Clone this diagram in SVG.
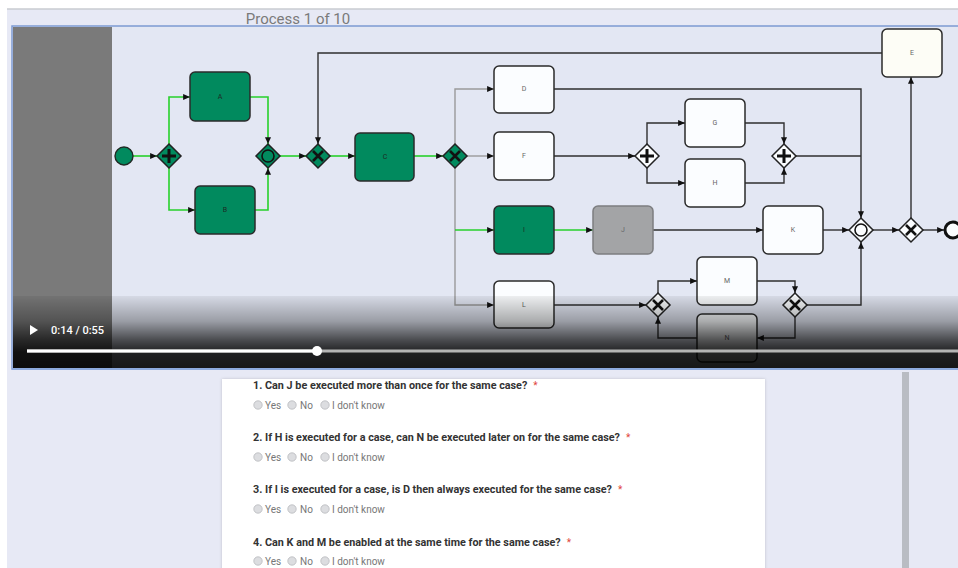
<svg xmlns="http://www.w3.org/2000/svg" width="958" height="568" viewBox="0 0 958 568">
  <defs>
    <style>
      .task { stroke: #2b2b2b; stroke-width: 1.5; }
      .t-green { fill: #018a5e; }
      .t-white { fill: #fbfdff; }
      .t-gray { fill: #a3a4a6; stroke: #7d7e80; }
      .lbl { font-family: Roboto, "Liberation Sans", sans-serif; font-size: 7px; text-anchor: middle; dominant-baseline: central; fill: #666; }
      .lbl-g { fill: #1d2b24; }
      .gw { stroke: #222; stroke-width: 1.5; }
      .gw-green { fill: #018a5e; }
      .gw-white { fill: #fbfdff; }
      .sym { stroke: #111; fill: none; stroke-linecap: butt; }
      .e-green { stroke: #27d12b; stroke-width: 1.6; fill: none; marker-end: url(#arr); }
      .e-gray { stroke: #9a9a9a; stroke-width: 1.4; fill: none; marker-end: url(#arr); }
      .e-dark { stroke: #2f2f2f; stroke-width: 1.4; fill: none; marker-end: url(#arr); }
      .e-plain { stroke: #2f2f2f; stroke-width: 1.4; fill: none; }
      .q { font-family: Roboto, "Liberation Sans", sans-serif; font-size: 10.8px; font-weight: bold; fill: #333; }
      .req { font-family: Roboto, "Liberation Sans", sans-serif; font-size: 10px; font-weight: normal; fill: #e0453a; }
      .opt { font-family: Roboto, "Liberation Sans", sans-serif; font-size: 10px; fill: #777; }
      .radio { fill: #dcdde0; stroke: #b8b9bc; stroke-width: 0.8; }
    </style>
    <marker id="arr" viewBox="0 0 8 7" refX="8" refY="3.5" markerWidth="7" markerHeight="6" markerUnits="userSpaceOnUse" orient="auto">
      <path d="M0,0 L8,3.5 L0,7 z" fill="#111"/>
    </marker>
    <linearGradient id="shade" x1="0" y1="0" x2="0" y2="1">
      <stop offset="0" stop-color="#000" stop-opacity="0.06"/>
      <stop offset="0.35" stop-color="#000" stop-opacity="0.32"/>
      <stop offset="0.6" stop-color="#000" stop-opacity="0.66"/>
      <stop offset="0.78" stop-color="#000" stop-opacity="0.86"/>
      <stop offset="1" stop-color="#000" stop-opacity="0.9"/>
    </linearGradient>
    <filter id="cardShadow" x="-5%" y="-5%" width="110%" height="110%">
      <feDropShadow dx="0" dy="0" stdDeviation="1.5" flood-color="#000" flood-opacity="0.18"/>
    </filter>
  </defs>

  <!-- page -->
  <rect x="0" y="0" width="958" height="568" fill="#ffffff"/>
  <rect x="7" y="9" width="951" height="559" fill="#e7e9f5"/>
  <line x1="7" y1="9" x2="958" y2="9" stroke="#c9cbd1" stroke-width="1.5"/>
  <text x="298" y="24" text-anchor="middle" font-family="Roboto, 'Liberation Sans', sans-serif" font-size="15" fill="#7a7a7a">Process 1 of 10</text>

  <!-- video frame -->
  <rect x="12" y="26" width="950" height="343" fill="#e3e7f3" stroke="#7d9bd2" stroke-width="1.5"/>
  <rect x="13" y="27" width="99" height="341" fill="#7a7a7a"/>

  <!-- connectors -->
  <g id="connectors">
    <path class="e-green" d="M133,156 H157"/>
    <path class="e-green" d="M169,144 V97 H190"/>
    <path class="e-green" d="M169,168 V210 H195"/>
    <path class="e-green" d="M250,97 H268 V144"/>
    <path class="e-green" d="M255,210 H268 V168"/>
    <path class="e-green" d="M280,156 H306"/>
    <path class="e-green" d="M330,156 H355"/>
    <path class="e-green" d="M414,156 H443"/>
    <path class="e-gray" d="M455,144 V89 H494"/>
    <path class="e-gray" d="M467,156 H494"/>
    <path class="e-gray" d="M455,168 V305 H494"/>
    <path class="e-green" d="M455,230 H494"/>
    <path class="e-green" d="M554,230 H593"/>
    <path class="e-dark" d="M882,53 H318 V144"/>
    <path class="e-dark" d="M554,89 H861 V218"/>
    <path class="e-dark" d="M554,156 H635"/>
    <path class="e-dark" d="M647,144 V123 H685"/>
    <path class="e-dark" d="M647,168 V183 H685"/>
    <path class="e-dark" d="M745,123 H784 V144"/>
    <path class="e-dark" d="M745,183 H784 V168"/>
    <path class="e-plain" d="M796,156 H861"/>
    <path class="e-dark" d="M653,230 H763"/>
    <path class="e-dark" d="M823,230 H849"/>
    <path class="e-dark" d="M873,230 H899"/>
    <path class="e-dark" d="M911,218 V77"/>
    <path class="e-dark" d="M923,230 H944"/>
    <path class="e-dark" d="M554,305 H646"/>
    <path class="e-dark" d="M658,293 V281 H697"/>
    <path class="e-dark" d="M757,281 H795 V293"/>
    <path class="e-dark" d="M807,305 H861 V242"/>
    <path class="e-dark" d="M795,317 V338 H757"/>
    <path class="e-dark" d="M697,338 H658 V317"/>
  </g>

  <!-- events -->
  <g id="start">
    <circle cx="124" cy="156" r="9" fill="#018a5e" stroke="#1f2a24" stroke-width="1.4"/>
  </g>
  <g id="end">
    <circle cx="953" cy="230" r="8" fill="#fbfdff" stroke="#111" stroke-width="3"/>
  </g>

  <!-- gateways -->
  <g id="gw-split-and">
    <polygon class="gw gw-green" points="169,144 181,156 169,168 157,156"/>
    <path class="sym" stroke-width="3" d="M169,149 V163 M162,156 H176"/>
  </g>
  <g id="gw-join-or">
    <polygon class="gw gw-green" points="268,144 280,156 268,168 256,156"/>
    <circle cx="268" cy="156" r="6" fill="none" stroke="#111" stroke-width="1.6"/>
  </g>
  <g id="gw-loop-xor">
    <polygon class="gw gw-green" points="318,144 330,156 318,168 306,156"/>
    <path class="sym" stroke-width="2.6" d="M313,151 L323,161 M323,151 L313,161"/>
  </g>
  <g id="gw-choice-xor">
    <polygon class="gw gw-green" points="455,144 467,156 455,168 443,156"/>
    <path class="sym" stroke-width="2.6" d="M450,151 L460,161 M460,151 L450,161"/>
  </g>
  <g id="gw-fg-and">
    <polygon class="gw gw-white" points="647,144 659,156 647,168 635,156"/>
    <path class="sym" stroke-width="3" d="M647,149 V163 M640,156 H654"/>
  </g>
  <g id="gw-gh-and">
    <polygon class="gw gw-white" points="784,144 796,156 784,168 772,156"/>
    <path class="sym" stroke-width="3" d="M784,149 V163 M777,156 H791"/>
  </g>
  <g id="gw-merge-or">
    <polygon class="gw gw-white" points="861,218 873,230 861,242 849,230"/>
    <circle cx="861" cy="230" r="6" fill="none" stroke="#111" stroke-width="1.6"/>
  </g>
  <g id="gw-exit-xor">
    <polygon class="gw gw-white" points="911,218 923,230 911,242 899,230"/>
    <path class="sym" stroke-width="2.6" d="M906,225 L916,235 M916,225 L906,235"/>
  </g>
  <g id="gw-mn-split">
    <polygon class="gw gw-white" points="658,293 670,305 658,317 646,305"/>
    <path class="sym" stroke-width="2.6" d="M653,300 L663,310 M663,300 L653,310"/>
  </g>
  <g id="gw-mn-join">
    <polygon class="gw gw-white" points="795,293 807,305 795,317 783,305"/>
    <path class="sym" stroke-width="2.6" d="M790,300 L800,310 M800,300 L790,310"/>
  </g>

  <!-- tasks -->
  <g id="task-A">
    <rect class="task t-green" x="190" y="72" width="60" height="49" rx="5"/>
    <text class="lbl lbl-g" x="220" y="97">A</text>
  </g>
  <g id="task-B">
    <rect class="task t-green" x="195" y="186" width="60" height="48" rx="5"/>
    <text class="lbl lbl-g" x="225" y="210">B</text>
  </g>
  <g id="task-C">
    <rect class="task t-green" x="355" y="133" width="59" height="48" rx="5"/>
    <text class="lbl lbl-g" x="385" y="157">C</text>
  </g>
  <g id="task-D">
    <rect class="task t-white" x="494" y="66" width="60" height="47" rx="5"/>
    <text class="lbl" x="524" y="89">D</text>
  </g>
  <g id="task-E">
    <rect class="task" fill="#fdfdf6" x="882" y="29" width="60" height="48" rx="5"/>
    <text class="lbl" x="912" y="53">E</text>
  </g>
  <g id="task-F">
    <rect class="task t-white" x="494" y="132" width="60" height="48" rx="5"/>
    <text class="lbl" x="524" y="156">F</text>
  </g>
  <g id="task-G">
    <rect class="task t-white" x="685" y="99" width="60" height="48" rx="5"/>
    <text class="lbl" x="715" y="123">G</text>
  </g>
  <g id="task-H">
    <rect class="task t-white" x="685" y="159" width="60" height="48" rx="5"/>
    <text class="lbl" x="715" y="183">H</text>
  </g>
  <g id="task-I">
    <rect class="task t-green" x="494" y="206" width="60" height="48" rx="5"/>
    <text class="lbl lbl-g" x="524" y="230">I</text>
  </g>
  <g id="task-J">
    <rect class="task t-gray" x="593" y="206" width="60" height="48" rx="5"/>
    <text class="lbl" x="623" y="230" fill="#555">J</text>
  </g>
  <g id="task-K">
    <rect class="task t-white" x="763" y="206" width="60" height="48" rx="5"/>
    <text class="lbl" x="793" y="230">K</text>
  </g>
  <g id="task-L">
    <rect class="task t-white" x="494" y="281" width="60" height="47" rx="5"/>
    <text class="lbl" x="524" y="305">L</text>
  </g>
  <g id="task-M">
    <rect class="task t-white" x="697" y="257" width="60" height="48" rx="5"/>
    <text class="lbl" x="727" y="281">M</text>
  </g>
  <g id="task-N">
    <rect class="task t-white" x="697" y="314" width="60" height="48" rx="5"/>
    <text class="lbl" x="727" y="338">N</text>
  </g>

  <!-- player controls overlay -->
  <g id="player">
    <rect x="13" y="296" width="945" height="72" fill="url(#shade)"/>
    <line x1="27" y1="351" x2="958" y2="351" stroke="#b5b5b5" stroke-width="3"/>
    <line x1="27" y1="351" x2="317" y2="351" stroke="#ffffff" stroke-width="3"/>
    <circle cx="317" cy="351" r="5" fill="#ffffff"/>
    <polygon points="30,325 30,335 38,330" fill="#ffffff"/>
    <text x="51" y="334" font-family="Roboto, 'Liberation Sans', sans-serif" font-size="11" font-weight="500" fill="#ffffff">0:14 / 0:55</text>
  </g>
  <line x1="12" y1="369" x2="958" y2="369" stroke="#8aa8df" stroke-width="1.5"/>

  <!-- scrollbar -->
  <rect x="902" y="372" width="7" height="196" fill="#b9bcc3"/>

  <!-- questionnaire card -->
  <g id="form">
    <rect x="222" y="379" width="543" height="200" fill="#ffffff" filter="url(#cardShadow)"/>

    <text class="q" x="253" y="389">1. Can J be executed more than once for the same case?<tspan class="req" dx="6">*</tspan></text>
    <circle class="radio" cx="258" cy="405" r="4.2"/><text class="opt" x="265" y="409">Yes</text>
    <circle class="radio" cx="292" cy="405" r="4.2"/><text class="opt" x="300" y="409">No</text>
    <circle class="radio" cx="325" cy="405" r="4.2"/><text class="opt" x="332" y="409">I don't know</text>

    <text class="q" x="253" y="441">2. If H is executed for a case, can N be executed later on for the same case?<tspan class="req" dx="6">*</tspan></text>
    <circle class="radio" cx="258" cy="457" r="4.2"/><text class="opt" x="265" y="461">Yes</text>
    <circle class="radio" cx="292" cy="457" r="4.2"/><text class="opt" x="300" y="461">No</text>
    <circle class="radio" cx="325" cy="457" r="4.2"/><text class="opt" x="332" y="461">I don't know</text>

    <text class="q" x="253" y="493">3. If I is executed for a case, is D then always executed for the same case?<tspan class="req" dx="6">*</tspan></text>
    <circle class="radio" cx="258" cy="509" r="4.2"/><text class="opt" x="265" y="513">Yes</text>
    <circle class="radio" cx="292" cy="509" r="4.2"/><text class="opt" x="300" y="513">No</text>
    <circle class="radio" cx="325" cy="509" r="4.2"/><text class="opt" x="332" y="513">I don't know</text>

    <text class="q" x="253" y="546">4. Can K and M be enabled at the same time for the same case?<tspan class="req" dx="6">*</tspan></text>
    <circle class="radio" cx="258" cy="561" r="4.2"/><text class="opt" x="265" y="565">Yes</text>
    <circle class="radio" cx="292" cy="561" r="4.2"/><text class="opt" x="300" y="565">No</text>
    <circle class="radio" cx="325" cy="561" r="4.2"/><text class="opt" x="332" y="565">I don't know</text>
  </g>
</svg>
